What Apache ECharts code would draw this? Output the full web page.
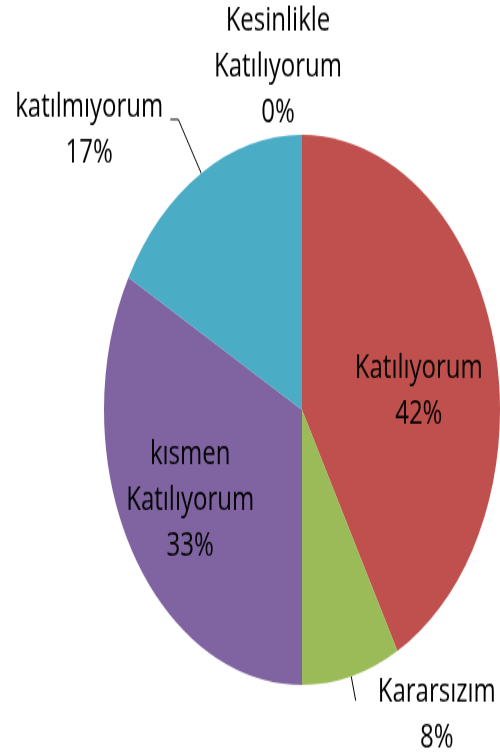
<!DOCTYPE html>
<html><head><meta charset="utf-8">
<script src="https://cdn.jsdelivr.net/npm/echarts@6/dist/echarts.min.js"></script>
<style>
html,body{margin:0;padding:0;background:#fff;overflow:hidden}
#wrap{width:500px;height:753px;overflow:hidden;position:relative}
#chart{width:500px;height:542px;transform:scaleY(1.3893);transform-origin:0 0}
</style></head>
<body><div id="wrap"><div id="chart"></div></div>
<script>
// Data
const categories = ['Katılıyorum', 'Kararsızım', 'kısmen Katılıyorum', 'katılmıyorum', 'Kesinlikle Katılıyorum'];
const values = [42, 8, 33, 17, 0];

// Styles
const colors = ['#C0504D', '#9BBB59', '#8064A2', '#4BACC6', '#F79646'];
const labelPlacement = ['inside', 'outside', 'inside', 'outside', 'outside'];
const lineLen = [[15, 15], [18, 0], [15, 15], [45, 8], [15, 0]];
const lineShow = [false, true, false, true, false];
const labelShift = [[18, 12], [17, 10], [-24, 13.5], [-2, 8], [-93, -34]];

const chart = echarts.init(document.getElementById('chart'), null, {renderer: 'canvas'});
const data = categories.map(function (c, i) {
  return {
    name: c,
    value: values[i],
    itemStyle: {color: colors[i]},
    label: {position: labelPlacement[i]},
    labelLine: {show: lineShow[i], length: lineLen[i][0], length2: lineLen[i][1]}
  };
});
chart.setOption({
  animation: false,
  backgroundColor: '#ffffff',
  series: [{
    type: 'pie',
    center: [302, 295.1],
    radius: [0, 198],
    startAngle: 90,
    clockwise: true,
    avoidLabelOverlap: false,
    data: data,
    itemStyle: {borderWidth: 0},
    label: {
      show: true,
      color: '#000',
      fontFamily: 'Open Sans',
      fontSize: 24,
      lineHeight: 33,
      formatter: function (p) { return p.name.replace(' ', '\n') + '\n' + Math.round(p.percent) + '%'; }
    },
    labelLine: {lineStyle: {color: '#000', width: 1}},
    labelLayout: function (p) {
      const o = labelShift[p.dataIndex];
      const w = p.labelRect.width;
      let base = 0;
      if (p.align === 'right') base = -w / 2;
      else if (p.align === 'left') base = w / 2;
      return {align: 'center', dx: base + o[0], dy: o[1]};
    }
  }]
});
</script>
</body></html>
